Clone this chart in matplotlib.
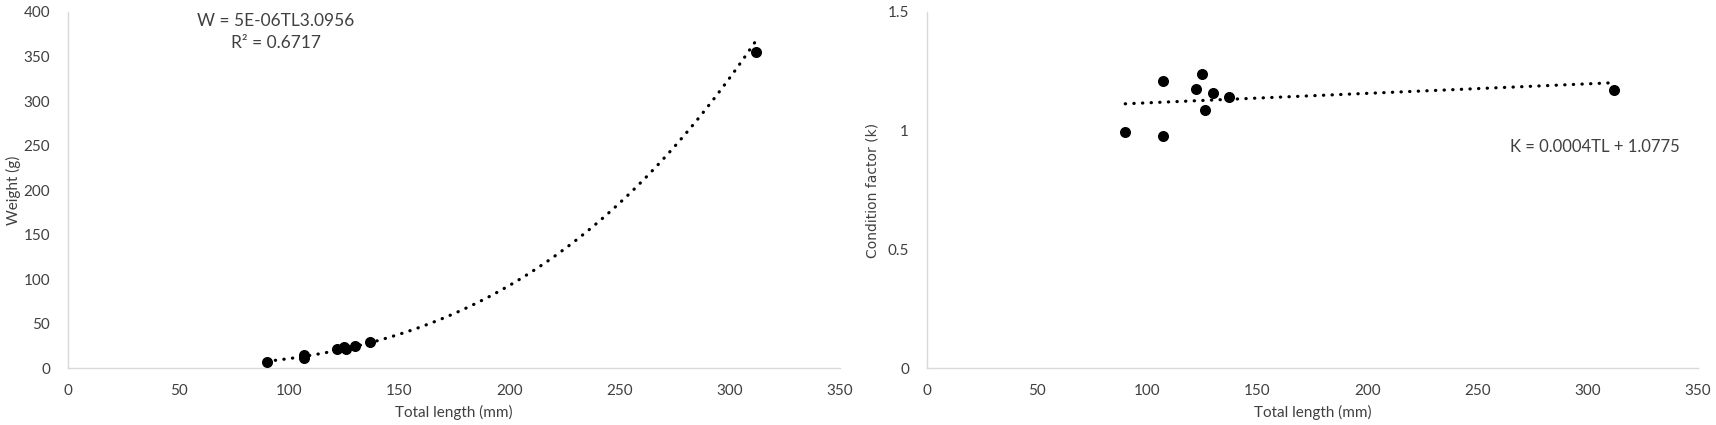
import numpy as np
import matplotlib
matplotlib.use('Agg')
import matplotlib.pyplot as plt

plt.rcParams['font.family'] = ['Lato', 'DejaVu Sans']

# total length (mm), weight (g), condition factor
total_length = [90, 107, 107, 122, 125, 126, 130, 137, 312]
weight = [7.2, 14.8, 12.0, 21.3, 24.2, 21.7, 25.5, 29.4, 355]
cond_k = [0.995, 1.21, 0.98, 1.175, 1.24, 1.087, 1.16, 1.143, 1.17]

# trendlines (power for weight, linear for K)
w_coef = 7.0e-6      # printed as 5E-06 in the label, curve
w_exp = 3.0956
k_slope = 0.0004
k_icpt = 1.0775
w_label = 'W = 5E-06TL3.0956\nR\u00b2 = 0.6717'
k_label = 'K = 0.0004TL + 1.0775'

x_ticks = [0, 50, 100, 150, 200, 250, 300, 350]
w_ticks = [0, 50, 100, 150, 200, 250, 300, 350, 400]
k_ticks = [0, 0.5, 1, 1.5]
k_ticklabels = ['0', '0.5', '1', '1.5']

txt_col = '#404040'
axis_col = '#d9d9d9'
dot_style = (0, (0.1, 2.6))

fig = plt.figure(figsize=(17.16, 4.25), dpi=100)
ax1 = fig.add_axes([0.0398, 0.1334, 0.4497, 0.8384])
ax2 = fig.add_axes([0.5402, 0.1334, 0.4493, 0.8384])


def style_axes(ax):
    for s in ['top', 'right']:
        ax.spines[s].set_visible(False)
    for s in ['left', 'bottom']:
        ax.spines[s].set_color(axis_col)
        ax.spines[s].set_linewidth(1.0)
    ax.tick_params(length=0, labelsize=11, labelcolor=txt_col)
    ax.tick_params(axis='x', pad=11)
    ax.tick_params(axis='y', pad=13)
    ax.set_xlim(0, 350)
    ax.set_xticks(x_ticks)
    ax.set_xlabel('Total length (mm)', fontsize=11, color=txt_col, labelpad=5)


tl = np.array(total_length, dtype=float)
xs = np.linspace(tl.min(), tl.max(), 300)

# weight vs length
style_axes(ax1)
ax1.plot(xs, w_coef * xs ** w_exp, color='black', lw=2.3, linestyle=dot_style,
         dash_capstyle='round', zorder=2)
ax1.scatter(total_length, weight, s=48, color='black', zorder=3)
ax1.set_ylim(0, 400)
ax1.set_yticks(w_ticks)
ax1.set_ylabel('Weight (g)', fontsize=11, color=txt_col, labelpad=2)
ax1.text(94, 399, w_label, ha='center', va='top', fontsize=12.5, color=txt_col,
         linespacing=1.45)

# condition factor vs length
style_axes(ax2)
ax2.plot(xs, k_slope * xs + k_icpt, color='black', lw=2.3, linestyle=dot_style,
         dash_capstyle='round', zorder=2)
ax2.scatter(total_length, cond_k, s=48, color='black', zorder=3)
ax2.set_ylim(0, 1.5)
ax2.set_yticks(k_ticks)
ax2.set_yticklabels(k_ticklabels)
ax2.set_ylabel('Condition factor (k)', fontsize=10, color=txt_col, labelpad=6,
               family=['DejaVu Sans'])
ax2.text(303, 0.93, k_label, ha='center', va='center', fontsize=12, color=txt_col)

fig.savefig('out.png', dpi=100)
